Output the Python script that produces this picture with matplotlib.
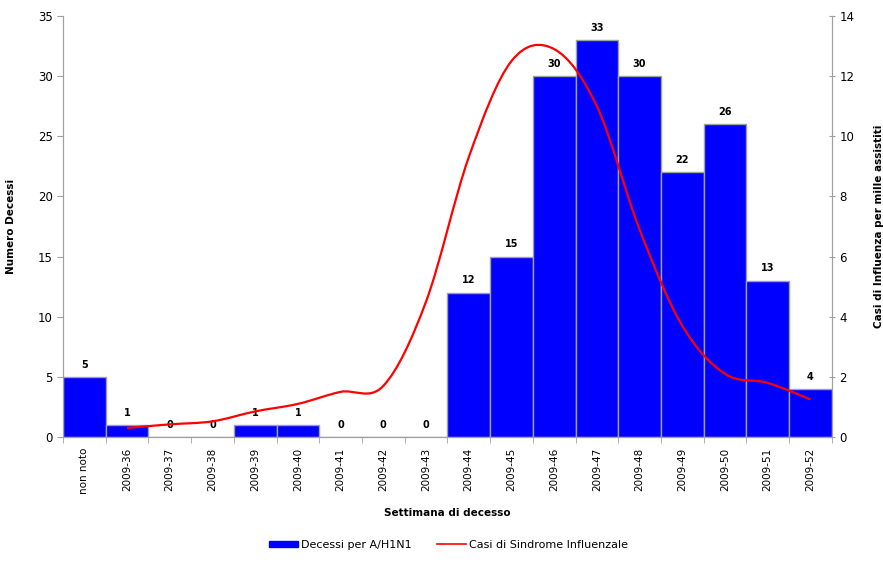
import numpy as np
import matplotlib
matplotlib.use("Agg")
import matplotlib.pyplot as plt
from matplotlib.path import Path
from matplotlib.patches import PathPatch
from matplotlib.lines import Line2D
from matplotlib.patches import Patch

# weekly deaths and ILI incidence, autumn 2009
weeks = ["non noto", "2009-36", "2009-37", "2009-38", "2009-39", "2009-40",
         "2009-41", "2009-42", "2009-43", "2009-44", "2009-45", "2009-46",
         "2009-47", "2009-48", "2009-49", "2009-50", "2009-51", "2009-52"]
deaths = [5, 1, 0, 0, 1, 1, 0, 0, 0, 12, 15, 30, 33, 30, 22, 26, 13, 4]
# ILI cases per 1000 (no value for "non noto")
ili = [None, 0.3, 0.42, 0.52, 0.85, 1.1, 1.5, 1.7, 4.5, 9.3, 12.5, 12.9,
       11.0, 6.9, 3.7, 2.1, 1.8, 1.25]

GRAY = "#a0a0a0"


def smooth_path(xs, ys):
    """Catmull-Rom style Bezier path through the points (spreadsheet 'smoothed line')."""
    pts = np.column_stack([xs, ys])
    verts = [tuple(pts[0])]
    codes = [Path.MOVETO]
    n = len(pts)
    for i in range(n - 1):
        p0 = pts[i - 1] if i > 0 else pts[i]
        p1, p2 = pts[i], pts[i + 1]
        p3 = pts[i + 2] if i + 2 < n else pts[i + 1]
        c1 = p1 + (p2 - p0) / 6.0
        c2 = p2 - (p3 - p1) / 6.0
        verts += [tuple(c1), tuple(c2), tuple(p2)]
        codes += [Path.CURVE4] * 3
    return Path(verts, codes)


fig = plt.figure(figsize=(8.83, 5.64), dpi=100)
ax = fig.add_axes([0.0713, 0.2252, 0.8707, 0.7464])
x = np.arange(len(weeks))

ax.bar(x, deaths, width=1.0, color="#0000ff", edgecolor=GRAY, linewidth=1.0, zorder=2)
for xi, d in zip(x, deaths):
    ax.text(xi, d + 0.6, str(d), ha="center", va="bottom", fontsize=7,
            fontweight="bold", zorder=5)

ax.set_xlim(-0.5, len(weeks) - 0.5)
ax.set_ylim(0, 35)
ax.set_yticks(range(0, 36, 5))
ax.set_xticks(x)
ax.set_xticklabels(weeks, rotation=90, fontsize=7.5)
ax.set_xticks(np.arange(-0.5, len(weeks)), minor=True)
ax.tick_params(axis="x", which="major", length=0, pad=8)
ax.tick_params(axis="x", which="minor", length=4, color=GRAY, direction="out")
ax.tick_params(axis="y", labelsize=8.5, length=4, color=GRAY, direction="out")
for side in ("left", "bottom", "right"):
    ax.spines[side].set_color(GRAY)
ax.spines["top"].set_visible(False)
ax.set_ylabel("Numero Decessi", fontsize=7.5, fontweight="bold")
ax.yaxis.set_label_coords(-0.061, 0.5)
ax.set_xlabel("Settimana di decesso", fontsize=7.5, fontweight="bold", labelpad=10)

ax2 = ax.twinx()
ax2.set_ylim(0, 14)
ax2.set_yticks(range(0, 15, 2))
ax2.tick_params(axis="y", labelsize=8.5, length=4, color=GRAY, direction="inout")
for side in ("left", "bottom", "right"):
    ax2.spines[side].set_color(GRAY)
ax2.spines["top"].set_visible(False)
ax2.set_ylabel("Casi di Influenza per mille assistiti", fontsize=7.5,
               fontweight="bold", labelpad=14)

ix = [i for i, v in enumerate(ili) if v is not None]
iv = [ili[i] for i in ix]
ax2.add_patch(PathPatch(smooth_path(ix, iv), facecolor="none", edgecolor="#ff0000",
                        linewidth=1.6, zorder=4))

handles = [Patch(facecolor="#0000ff", edgecolor="#0000ff"),
           Line2D([], [], color="#ff0000", linewidth=1.2)]
fig.legend(handles, ["Decessi per A/H1N1", "Casi di Sindrome Influenzale"],
           loc="center", bbox_to_anchor=(0.508, 0.034), ncol=2, frameon=False,
           fontsize=8, handlelength=2.6, handleheight=0.45, handletextpad=0.27,
           columnspacing=2.25)

fig.savefig("out.png", dpi=100)
